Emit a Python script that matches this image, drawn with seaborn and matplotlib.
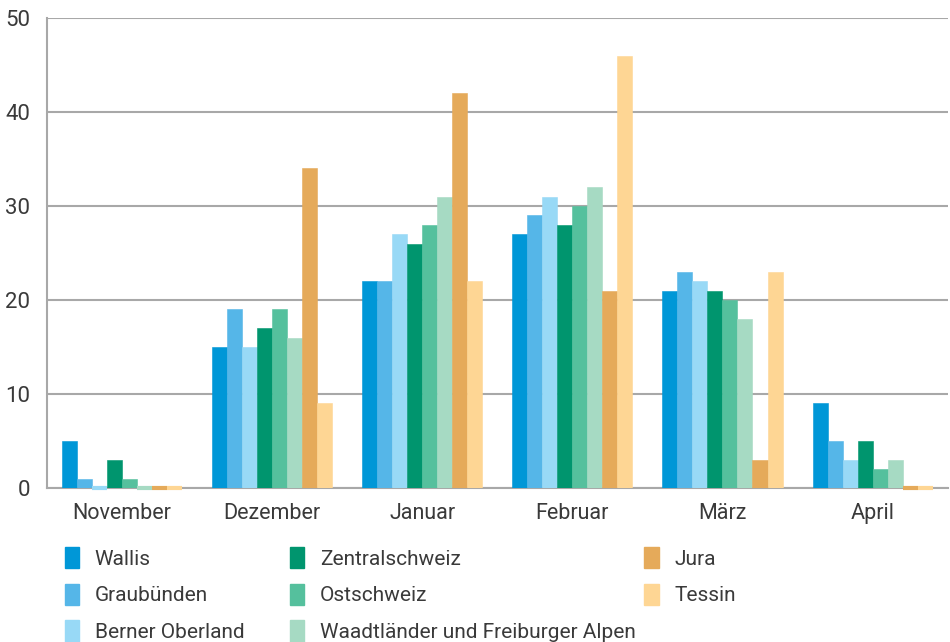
import matplotlib
matplotlib.use("Agg")
import matplotlib.pyplot as plt
from matplotlib.patches import Patch
import seaborn as sns
import pandas as pd

# Monate und Regionen
months = ["November", "Dezember", "Januar", "Februar", "März", "April"]
regions = [
    "Wallis", "Graubünden", "Berner Oberland",
    "Zentralschweiz", "Ostschweiz", "Waadtländer und Freiburger Alpen",
    "Jura", "Tessin",
]
colors = [
    "#0097d7", "#55b6e8", "#98d9f6",
    "#00956e", "#55c09d", "#a6dac3",
    "#e5aa5a", "#fed694",
]

# Werte je Region (Nov..Apr)
wallis = [5, 15, 22, 27, 21, 9]
graubuenden = [1, 19, 22, 29, 23, 5]
berner_oberland = [0, 15, 27, 31, 22, 3]
zentralschweiz = [3, 17, 26, 28, 21, 5]
ostschweiz = [1, 19, 28, 30, 20, 2]
waadt_freiburg = [0, 16, 31, 32, 18, 3]
jura = [0, 34, 42, 21, 3, 0]
tessin = [0, 9, 22, 46, 23, 0]

series = [wallis, graubuenden, berner_oberland, zentralschweiz,
          ostschweiz, waadt_freiburg, jura, tessin]

rows = []
for reg, vals in zip(regions, series):
    for m, v in zip(months, vals):
        rows.append({"Monat": m, "Region": reg, "Wert": v})
df = pd.DataFrame(rows)

sns.set_style("white")
plt.rcParams["font.family"] = ["Roboto", "DejaVu Sans"]
text_col = "#3a3a3a"
grid_col = "#a8a8a8"

fig = plt.figure(figsize=(9.5, 6.42), dpi=100)
ax = fig.add_axes([0.0495, 0.240, 0.948, 0.732])

sns.barplot(data=df, x="Monat", y="Wert", hue="Region", order=months,
            hue_order=regions, palette=colors, saturation=1, width=0.8,
            ax=ax, legend=False, errorbar=None)

# zero bars still show as a thin coloured line on the axis
for p in ax.patches:
    p.set_edgecolor(p.get_facecolor())
    p.set_zorder(3)
    if p.get_height() == 0:
        p.set_linewidth(3.0)
        p.set_clip_on(False)
    else:
        p.set_linewidth(0.4)

ax.set_ylim(0, 50)
ax.set_xlim(-0.5, 5.5)
ax.set_yticks(range(0, 51, 10))
ax.yaxis.grid(True, color=grid_col, linewidth=1.5, zorder=0)
ax.set_axisbelow(True)
ax.set_xlabel("")
ax.set_ylabel("")

for s in ["top", "right"]:
    ax.spines[s].set_visible(False)
for s in ["left", "bottom"]:
    ax.spines[s].set_color(grid_col)
    ax.spines[s].set_linewidth(1.5)
    ax.spines[s].set_zorder(2)

ax.tick_params(axis="y", length=0, pad=12, labelsize=16, labelcolor=text_col)
ax.tick_params(axis="x", which="major", length=0, pad=11, labelsize=15.5,
               labelcolor=text_col)
ax.set_xticks([i + 0.5 for i in range(5)], minor=True)
ax.tick_params(axis="x", which="minor", direction="in", length=9,
               width=1.5, color=grid_col)

# legend in three columns
col_x = [0.068, 0.305, 0.678]
for c in range(3):
    idx = list(range(c * 3, min(c * 3 + 3, len(regions))))
    handles = [Patch(facecolor=colors[i], edgecolor=colors[i], label=regions[i])
               for i in idx]
    fig.legend(handles=handles, loc="upper left",
               bbox_to_anchor=(col_x[c], 0.148), frameon=False,
               fontsize=15, labelcolor=text_col, handlelength=0.7,
               handleheight=1.2, handletextpad=0.75, labelspacing=0.72,
               borderaxespad=0, borderpad=0)

fig.savefig("out.png", dpi=100)
